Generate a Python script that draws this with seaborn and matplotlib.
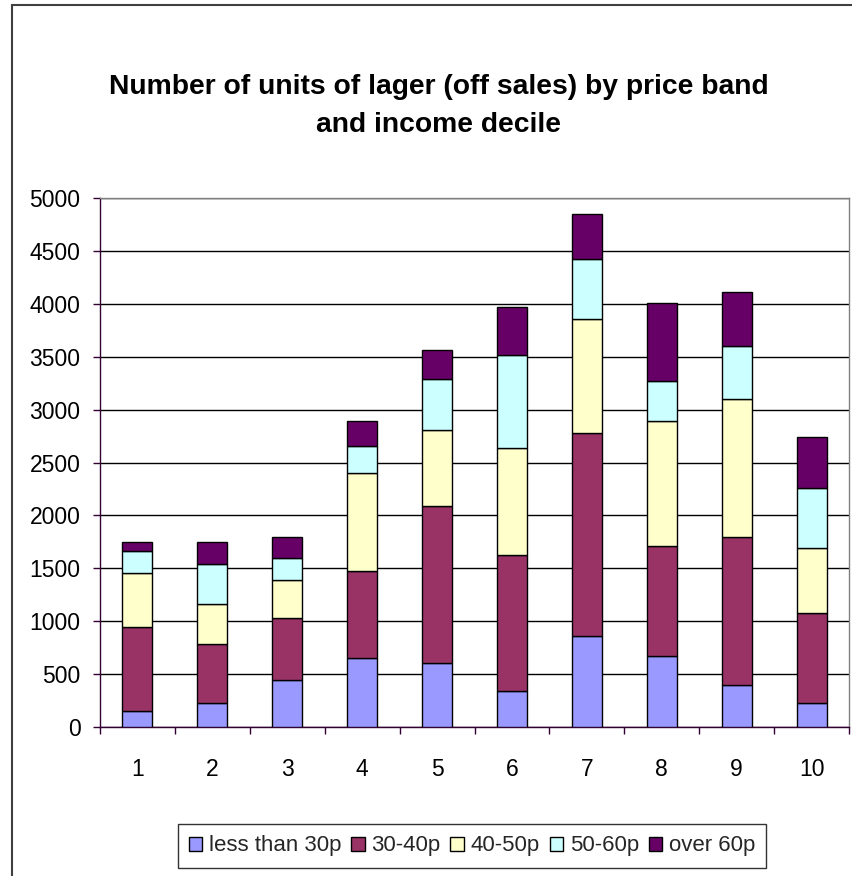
import numpy as np
import pandas as pd
import matplotlib
matplotlib.use("Agg")
import matplotlib.pyplot as plt
import matplotlib.patches as mpatches
import seaborn as sns

deciles = ["1", "2", "3", "4", "5", "6", "7", "8", "9", "10"]
bands = ["less than 30p", "30-40p", "40-50p", "50-60p", "over 60p"]
less_30 = [148, 230, 441, 651, 609, 336, 862, 668, 398, 230]
p30_40 = [799, 550, 589, 823, 1477, 1286, 1918, 1039, 1395, 846]
p40_50 = [507, 378, 358, 927, 720, 1013, 1079, 1181, 1309, 612]
p50_60 = [207, 378, 214, 254, 480, 881, 565, 382, 503, 569]
over_60 = [89, 214, 197, 240, 280, 451, 428, 740, 507, 483]
colors = ["#9999FF", "#993366", "#FFFFCC", "#CCFFFF", "#660066"]
series = [less_30, p30_40, p40_50, p50_60, over_60]

sns.set_theme(style="white")
plt.rcParams["font.family"] = ["Liberation Sans", "DejaVu Sans"]

W, H = 852, 876
fig = plt.figure(figsize=(W / 100, H / 100), dpi=100)
ax = fig.add_axes([100 / W, 1 - 727 / H, (849 - 100) / W, (727 - 198) / H])

bottom = np.zeros(len(deciles))
for name, vals, col in zip(bands, series, colors):
    df = pd.DataFrame({"decile": deciles, "value": vals})
    sns.barplot(data=df, x="decile", y="value", order=deciles, color=col,
                bottom=bottom, width=0.4, edgecolor="black", linewidth=1.0,
                errorbar=None, saturation=1, ax=ax, zorder=3)
    bottom = bottom + np.array(vals)

ax.set_xlim(-0.5, 9.5)
ax.set_ylim(0, 5000)
ax.set_yticks(np.arange(0, 5001, 500))
ax.set_yticklabels([str(v) for v in range(0, 5001, 500)])
ax.set_xlabel("")
ax.set_ylabel("")
ax.yaxis.grid(True, color="black", linewidth=1.0, zorder=0)
ax.xaxis.grid(False)
ax.set_axisbelow(True)

axis_col = "#330033"
for s in ["left", "bottom"]:
    ax.spines[s].set_color(axis_col)
    ax.spines[s].set_linewidth(1.0)
for s in ["top", "right"]:
    ax.spines[s].set_color("#808080")
    ax.spines[s].set_linewidth(1.0)

ax.tick_params(axis="y", which="major", direction="out", length=5, width=1,
               color=axis_col, pad=9, labelsize=16.5, labelcolor="black", left=True)
ax.tick_params(axis="x", which="major", length=0, pad=22, labelsize=16.5, labelcolor="black")
ax.set_xticks(np.arange(-0.5, 10, 1.0), minor=True)
ax.tick_params(axis="x", which="minor", direction="out", length=5, width=1,
               color=axis_col, bottom=True)

fig.text(0.515, 1 - 106 / H, "Number of units of lager (off sales) by price band\nand income decile",
         ha="center", va="center", multialignment="center", fontsize=20.3,
         fontweight="bold", linespacing=1.62, color="black")

handles = [mpatches.Patch(facecolor=c, edgecolor="black", linewidth=1.0, label=b)
           for b, c in zip(bands, colors)]
leg = fig.legend(handles=handles, loc="center", bbox_to_anchor=(472 / W, 1 - 846 / H),
                 ncol=5, frameon=True, fancybox=False, fontsize=16,
                 handlelength=0.6, handleheight=0.6, handletextpad=0.3,
                 columnspacing=0.45, borderpad=0.5, borderaxespad=0)
leg.get_frame().set_edgecolor("black")
leg.get_frame().set_linewidth(1.0)

border = mpatches.Rectangle((12 / W, -0.05), 1.2, 1 - 5 / H + 0.05, transform=fig.transFigure,
                            fill=False, edgecolor="#404040", linewidth=1.5)
fig.add_artist(border)

fig.savefig("out.png", dpi=100, facecolor="white")
